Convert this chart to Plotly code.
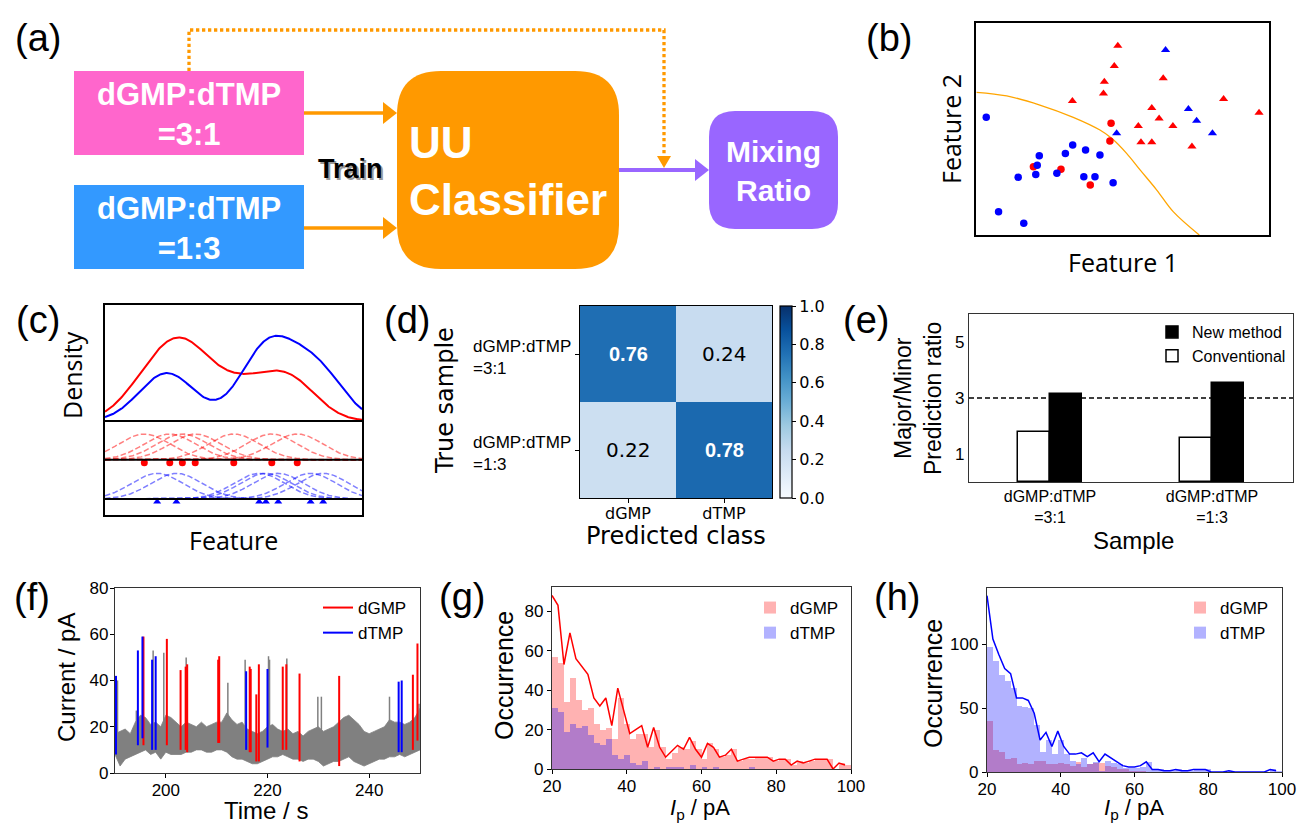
import numpy as np
import plotly.graph_objects as go

W, H = 1297, 826
ARIAL = "Liberation Sans, Arial, sans-serif"
DJV = "DejaVu Sans, sans-serif"
OPEN = "Open Sans, sans-serif"

# ---------------- data ----------------
# (b) feature scatter
b_red_tri_x = [4.84, 4.72, 4.38, 4.35, 3.29, 6.39, 8.45, 9.66, 6.00, 6.25, 5.54, 6.72, 5.63, 6.00, 7.37]
b_red_tri_y = [8.93, 7.97, 7.23, 6.68, 6.32, 7.39, 6.42, 5.77, 5.99, 5.50, 5.14, 5.14, 4.37, 4.37, 4.17]
b_blue_tri_x = [6.47, 7.25, 7.53, 8.07, 4.80]
b_blue_tri_y = [8.73, 5.94, 5.39, 4.80, 4.80]
b_red_cir_x = [4.61, 4.57, 1.96, 2.90, 3.90]
b_red_cir_y = [5.27, 4.43, 3.22, 3.10, 2.36]
b_blue_cir_x = [0.35, 2.16, 2.09, 1.44, 2.04, 2.76, 3.05, 3.30, 3.74, 4.23, 3.68, 4.06, 4.68, 0.77, 1.63]
b_blue_cir_y = [5.55, 3.74, 3.29, 2.72, 2.85, 2.91, 3.85, 4.25, 4.01, 3.77, 2.75, 2.75, 2.47, 1.10, 0.55]
b_bound_x = [0.02, 1.05, 2.18, 3.32, 4.23, 4.63, 5.14, 5.60, 6.17, 6.73, 7.62]
b_bound_y = [6.73, 6.56, 6.13, 5.55, 4.95, 4.56, 3.85, 3.07, 2.12, 1.10, 0.00]

# (c) kernel density illustration
c_red_pts = [1.53, 2.52, 3.01, 3.51, 5.01, 6.49, 7.48]
c_blue_pts = [2.03, 2.78, 6.00, 6.26, 6.74, 8.00, 8.49]

# (d) confusion matrix
d_rows = ["dGMP:dTMP<br>=3:1", "dGMP:dTMP<br>=1:3"]
d_cols = ["dGMP", "dTMP"]
d_conf = [[0.76, 0.24], [0.22, 0.78]]

# (e) prediction ratio
e_samples = ["dGMP:dTMP<br>=3:1", "dGMP:dTMP<br>=1:3"]
e_conventional = [1.77, 1.56]
e_new = [3.15, 3.52]
e_expected = 3

# (f) current trace
f_time = list(range(190, 251))
f_upper = [17, 18, 19, 17, 22, 25, 24, 21, 22, 20,
           25, 24, 22, 20, 22, 21, 20, 22, 20, 21,
           22, 22, 26, 23, 21, 22, 19, 18, 17, 18,
           20, 21, 19, 18, 19, 17, 18, 16, 18, 19,
           20, 18, 19, 20, 22, 24, 25, 23, 21, 18,
           17, 18, 19, 20, 23, 22, 22, 21, 22, 24, 28]
f_lower = [8, 3, 6, 7, 8, 9, 10, 8, 9, 6,
           9, 8, 8, 8, 9, 9, 10, 10, 9, 9,
           10, 10, 9, 7, 6, 6, 5, 4, 4, 5,
           6, 7, 7, 8, 7, 6, 6, 5, 6, 6,
           5, 3, 4, 5, 5, 6, 7, 5, 4, 3,
           4, 5, 6, 6, 7, 7, 8, 7, 8, 9, 10]
f_gray_t = [190.5, 194.2, 197.5, 199.6, 204.0, 212.2, 215.6, 220.2, 220.4, 223.8, 229.9, 230.6, 244.0, 249.8]
f_gray_lo = [10, 10, 12, 10, 10, 10, 10, 12, 12, 10, 10, 10, 10, 12]
f_gray_hi = [40, 27, 53, 52, 50, 39, 49, 50.5, 49, 49.5, 33, 33, 33, 30]
f_dtmp_t = [190.2, 194.5, 195.4, 197.3, 198.0, 215.8, 220.0, 245.8, 246.4]
f_dtmp_lo = [8, 12, 15, 10, 10, 10, 11, 9, 9]
f_dtmp_hi = [42, 53, 59, 49, 50.5, 44, 45, 39.5, 40]
f_dgmp_t = [195.6, 200.2, 202.9, 203.9, 204.2, 210.3, 210.5, 216.5, 216.7, 217.8, 218.3,
            223.0, 223.7, 226.3, 234.1, 248.6, 249.5]
f_dgmp_lo = [12, 12, 10, 10, 9, 13, 13, 9, 9, 5, 5, 10, 10, 5, 3, 10, 14]
f_dgmp_hi = [59, 58, 44.5, 46, 47, 49, 50.5, 46, 45, 34, 47, 46, 47, 43, 42, 42.5, 56]

# (g),(h) histograms, 50 bins from 20 to 100 pA
hist_edges = np.linspace(20, 100, 51)
g_dgmp = [57, 54, 34, 46, 35, 30, 31, 23, 20, 21, 15, 36, 23, 15, 18, 18, 11, 20, 11, 5,
          8, 11, 10, 14, 10, 5, 13, 10, 6, 7, 10, 4, 5, 5, 6, 6, 6, 4, 5, 5,
          2, 4, 3, 4, 5, 5, 5, 0, 3, 2]
g_dtmp = [31, 29, 19, 23, 21, 22, 17, 13, 12, 15, 7, 5, 7, 3, 2, 4, 0, 1, 0, 1,
          1, 1, 0, 2, 0, 1, 0, 1, 0, 0, 0, 0, 0, 1, 0, 0, 0, 0, 0, 0,
          0, 0, 0, 0, 0, 0, 0, 0, 0, 0]
h_dgmp = [40, 17, 16, 10, 11, 6, 7, 6, 9, 9, 6, 6, 7, 6, 5, 8, 4, 6, 7, 7,
          5, 4, 2, 2, 1, 1, 1, 0, 0, 0, 0, 0, 0, 0, 0, 0, 0, 0, 0, 0,
          0, 0, 0, 0, 0, 0, 0, 0, 0, 0]
h_dtmp = [98, 87, 76, 71, 66, 52, 51, 50, 37, 16, 25, 14, 25, 14, 9, 6, 11, 6, 8, 1,
          9, 7, 6, 3, 3, 3, 4, 8, 2, 2, 1, 1, 2, 1, 1, 2, 2, 2, 0, 0,
          0, 1, 0, 0, 0, 0, 0, 0, 2, 1]

# ---------------- helpers ----------------
def X(x):
    return x / W

def Y(y):
    return 1 - y / H

fig = go.Figure()
shapes = []
annotations = []


def ann(text, x, y, size, family=ARIAL, color="black", angle=0, **kw):
    d = dict(text=text, x=X(x), y=Y(y), xref="paper", yref="paper", showarrow=False,
             font=dict(family=family, size=size, color=color), textangle=angle,
             xanchor="center", yanchor="middle")
    d.update(kw)
    annotations.append(d)


def segs(ts, lo, hi):
    xs, ys = [], []
    for t, a, b in zip(ts, lo, hi):
        xs += [t, t, None]
        ys += [a, b, None]
    return xs, ys


def axis(**kw):
    d = dict(showgrid=False, zeroline=False, showline=True, mirror=True, linecolor="black",
             linewidth=1.3, ticks="outside", ticklen=4, tickwidth=1.2, tickcolor="black",
             automargin=False, tickfont=dict(family=ARIAL, size=17, color="black"))
    d.update(kw)
    return d

# ---------------- (a) diagram ----------------
def rrect(x0, y0, x1, y1, r):
    P = lambda x, y: f"{X(x):.5f},{Y(y):.5f}"
    return (f"M {P(x0 + r, y0)} L {P(x1 - r, y0)} Q {P(x1, y0)} {P(x1, y0 + r)} "
            f"L {P(x1, y1 - r)} Q {P(x1, y1)} {P(x1 - r, y1)} L {P(x0 + r, y1)} "
            f"Q {P(x0, y1)} {P(x0, y1 - r)} L {P(x0, y0 + r)} Q {P(x0, y0)} {P(x0 + r, y0)} Z")


def poly(pts):
    return "M " + " L ".join(f"{X(x):.5f},{Y(y):.5f}" for x, y in pts) + " Z"


def pathline(pts):
    return "M " + " L ".join(f"{X(x):.5f},{Y(y):.5f}" for x, y in pts)

PINK, BLUEBOX, ORANGE, PURPLE = "#FF66CC", "#3399FF", "#FF9900", "#9966FF"
shapes.append(dict(type="rect", xref="paper", yref="paper", x0=X(74), x1=X(304), y0=Y(155), y1=Y(71),
                   fillcolor=PINK, line=dict(width=0)))
shapes.append(dict(type="rect", xref="paper", yref="paper", x0=X(74), x1=X(304), y0=Y(269), y1=Y(185),
                   fillcolor=BLUEBOX, line=dict(width=0)))
shapes.append(dict(type="path", xref="paper", yref="paper", path=rrect(397, 71, 619, 269, 44),
                   fillcolor=ORANGE, line=dict(width=0)))
shapes.append(dict(type="path", xref="paper", yref="paper", path=rrect(709, 111, 838, 229, 26),
                   fillcolor=PURPLE, line=dict(width=0)))
# solid arrows
for yy in (113, 228):
    shapes.append(dict(type="line", xref="paper", yref="paper", x0=X(304), x1=X(386), y0=Y(yy), y1=Y(yy),
                       line=dict(color=ORANGE, width=3.5)))
    shapes.append(dict(type="path", xref="paper", yref="paper",
                       path=poly([(383, yy - 11), (397, yy), (383, yy + 11)]),
                       fillcolor=ORANGE, line=dict(width=0)))
shapes.append(dict(type="line", xref="paper", yref="paper", x0=X(619), x1=X(697), y0=Y(170), y1=Y(170),
                   line=dict(color=PURPLE, width=4)))
shapes.append(dict(type="path", xref="paper", yref="paper",
                   path=poly([(695, 159), (709, 170), (695, 181)]),
                   fillcolor=PURPLE, line=dict(width=0)))
# dotted feedback arrow
shapes.append(dict(type="path", xref="paper", yref="paper",
                   path=pathline([(189, 71), (189, 30), (664, 30), (664, 157)]),
                   line=dict(color=ORANGE, width=3.3, dash="3.3px,2.7px")))
shapes.append(dict(type="path", xref="paper", yref="paper",
                   path=poly([(657, 156), (671, 156), (664, 168)]),
                   fillcolor=ORANGE, line=dict(width=0)))

ann("<b>dGMP:dTMP<br>=3:1</b>", 189, 114, 31, color="white")
ann("<b>dGMP:dTMP<br>=1:3</b>", 189, 228, 31, color="white")
ann("<b>UU<br>Classifier</b>", 508, 171, 44, color="white", align="left")
ann("<b>Mixing<br>Ratio</b>", 773, 171, 30, color="white")
ann("<b>Train</b>", 352, 171, 27, color="#9a9a9a")
ann("<b>Train</b>", 350, 169, 27, color="black")

# panel labels
for lab, x, y in [("(a)", 38, 38), ("(b)", 889, 38), ("(c)", 38, 320), ("(d)", 407, 320),
                  ("(e)", 866, 320), ("(f)", 32, 597), ("(g)", 462, 597), ("(h)", 897, 597)]:
    ann(lab, x, y, 38)

# ---------------- (b) scatter ----------------
fig.add_trace(go.Scatter(x=b_bound_x, y=b_bound_y, mode="lines", line=dict(color="#FFA500", width=1.3, shape="spline"),
                         showlegend=False, xaxis="x", yaxis="y"))
fig.add_trace(go.Scatter(x=b_red_tri_x, y=b_red_tri_y, mode="markers",
                         marker=dict(symbol="triangle-up", size=8, color="#FF0000"), showlegend=False, xaxis="x", yaxis="y"))
fig.add_trace(go.Scatter(x=b_blue_tri_x, y=b_blue_tri_y, mode="markers",
                         marker=dict(symbol="triangle-up", size=8, color="#0000FF"), showlegend=False, xaxis="x", yaxis="y"))
fig.add_trace(go.Scatter(x=b_red_cir_x, y=b_red_cir_y, mode="markers",
                         marker=dict(symbol="circle", size=7.5, color="#FF0000"), showlegend=False, xaxis="x", yaxis="y"))
fig.add_trace(go.Scatter(x=b_blue_cir_x, y=b_blue_cir_y, mode="markers",
                         marker=dict(symbol="circle", size=7.5, color="#0000FF"), showlegend=False, xaxis="x", yaxis="y"))
ann("Feature 2", 951, 129, 25, family=OPEN, angle=-90)
ann("Feature 1", 1123, 262, 25, family=OPEN)

# ---------------- (c) KDE illustration ----------------
SIG, KH = 1.0, 0.77
DIV, RED_BASE, BLUE_BASE = 2.82, 1.66, 0.48
xs = np.linspace(0, 10, 400)


def kern(c):
    return KH * np.exp(-(xs - c) ** 2 / (2 * SIG ** 2))

for c in c_red_pts:
    fig.add_trace(go.Scatter(x=xs, y=RED_BASE + kern(c), mode="lines",
                             line=dict(color="rgba(255,0,0,0.5)", width=1.5, dash="5.5px,2.5px"),
                             showlegend=False, xaxis="x2", yaxis="y2"))
for c in c_blue_pts:
    fig.add_trace(go.Scatter(x=xs, y=BLUE_BASE + kern(c), mode="lines",
                             line=dict(color="rgba(0,0,255,0.5)", width=1.5, dash="5.5px,2.5px"),
                             showlegend=False, xaxis="x2", yaxis="y2"))
red_kde = DIV + sum(kern(c) for c in c_red_pts)
blue_kde = DIV + sum(kern(c) for c in c_blue_pts)
fig.add_trace(go.Scatter(x=xs, y=red_kde, mode="lines", line=dict(color="#FF0000", width=2),
                         showlegend=False, xaxis="x2", yaxis="y2"))
fig.add_trace(go.Scatter(x=xs, y=blue_kde, mode="lines", line=dict(color="#0000FF", width=2),
                         showlegend=False, xaxis="x2", yaxis="y2"))
for yy in (DIV, RED_BASE, BLUE_BASE):
    shapes.append(dict(type="line", xref="x2 domain", yref="y2", x0=0, x1=1, y0=yy, y1=yy,
                       line=dict(color="black", width=2)))
fig.add_trace(go.Scatter(x=c_red_pts, y=[RED_BASE - 0.09] * len(c_red_pts), mode="markers",
                         marker=dict(symbol="circle", size=7, color="#FF0000"), showlegend=False,
                         xaxis="x2", yaxis="y2", cliponaxis=False))
fig.add_trace(go.Scatter(x=c_blue_pts, y=[BLUE_BASE - 0.08] * len(c_blue_pts), mode="markers",
                         marker=dict(symbol="triangle-up", size=7, color="#0000FF"), showlegend=False,
                         xaxis="x2", yaxis="y2", cliponaxis=False))
ann("Density", 72, 375, 25, family=OPEN, angle=-90)
ann("Feature", 233, 540, 25, family=OPEN)

# ---------------- (d) confusion matrix ----------------
BLUES = [[0.0, "rgb(247,251,255)"], [0.125, "rgb(222,235,247)"], [0.25, "rgb(198,219,239)"],
         [0.375, "rgb(158,202,225)"], [0.5, "rgb(107,174,214)"], [0.625, "rgb(66,146,198)"],
         [0.75, "rgb(33,113,181)"], [0.875, "rgb(8,81,156)"], [1.0, "rgb(8,48,107)"]]
fig.add_trace(go.Heatmap(z=d_conf, x=[0, 1], y=[0, 1], zmin=0, zmax=1, colorscale=BLUES,
                         showscale=True, xaxis="x3", yaxis="y3", hoverinfo="skip",
                         colorbar=dict(x=X(780), xanchor="left", y=Y(402), yanchor="middle",
                                       len=192, lenmode="pixels", thickness=12, thicknessmode="pixels",
                                       outlinewidth=1.2, outlinecolor="black",
                                       tickvals=[0, 0.2, 0.4, 0.6, 0.8, 1.0],
                                       ticktext=["0.0", "0.2", "0.4", "0.6", "0.8", "1.0"],
                                       ticks="outside", ticklen=4, tickcolor="black",
                                       tickfont=dict(family=DJV, size=16, color="black"),
                                       xpad=0, ypad=0)))
for i in range(2):
    for j in range(2):
        v = d_conf[i][j]
        annotations.append(dict(text=(f"<b>{v:.2f}</b>" if v > 0.5 else f"{v:.2f}"), x=j, y=i,
                                xref="x3", yref="y3", showarrow=False,
                                font=dict(family=ARIAL if v > 0.5 else DJV, size=20,
                                          color="white" if v > 0.5 else "black")))
    annotations.append(dict(text=d_rows[i], x=X(573), y=i, xref="paper", yref="y3", showarrow=False,
                            xanchor="right", yanchor="middle", align="left", yshift=-3,
                            font=dict(family=ARIAL, size=17, color="black")))
ann("True sample", 445, 401, 24, family=DJV, angle=-90)
ann("Predicted class", 676, 536, 24, family=DJV)

# ---------------- (e) bar chart ----------------
fig.add_trace(go.Bar(x=e_samples, y=e_conventional, name="Conventional", width=0.2, offset=-0.2,
                     marker=dict(color="white", line=dict(color="black", width=1.5)),
                     xaxis="x4", yaxis="y4", legend="legend"))
fig.add_trace(go.Bar(x=e_samples, y=e_new, name="New method", width=0.2, offset=0,
                     marker=dict(color="black", line=dict(color="black", width=1.5)),
                     xaxis="x4", yaxis="y4", legend="legend"))
shapes.append(dict(type="line", xref="x4 domain", yref="y4", x0=0, x1=1, y0=e_expected, y1=e_expected,
                   line=dict(color="black", width=1.3, dash="5px,3px")))
ann("Major/Minor<br>Prediction ratio", 918, 399, 23, angle=-90)
ann("Sample", 1133, 540, 24)

# ---------------- (f) current trace ----------------
fig.add_trace(go.Scatter(x=f_time + f_time[::-1], y=f_upper + f_lower[::-1], fill="toself",
                         fillcolor="#808080", mode="lines", line=dict(color="#808080", width=0.8),
                         showlegend=False, xaxis="x5", yaxis="y5"))
gx, gy = segs(f_gray_t, f_gray_lo, f_gray_hi)
fig.add_trace(go.Scatter(x=gx, y=gy, mode="lines", line=dict(color="#808080", width=1.5),
                         showlegend=False, xaxis="x5", yaxis="y5"))
rx, ry = segs(f_dgmp_t, f_dgmp_lo, f_dgmp_hi)
fig.add_trace(go.Scatter(x=rx, y=ry, mode="lines", line=dict(color="#FF0000", width=2),
                         name="dGMP", xaxis="x5", yaxis="y5", legend="legend2"))
bx, by = segs(f_dtmp_t, f_dtmp_lo, f_dtmp_hi)
fig.add_trace(go.Scatter(x=bx, y=by, mode="lines", line=dict(color="#0000FF", width=2),
                         name="dTMP", xaxis="x5", yaxis="y5", legend="legend2"))
ann("Current / pA", 66, 678, 24, angle=-90)
ann("Time / s", 266, 810, 24)

# ---------------- (g),(h) histograms ----------------
centers = (hist_edges[:-1] + hist_edges[1:]) / 2
bw = hist_edges[1] - hist_edges[0]
for dg, dt, lc, xa, ya, lg in [(g_dgmp, g_dtmp, "#FF0000", "x6", "y6", "legend3"),
                               (h_dgmp, h_dtmp, "#0000FF", "x7", "y7", "legend4")]:
    fig.add_trace(go.Bar(x=centers, y=dg, width=bw, name="dGMP",
                         marker=dict(color="rgba(255,0,0,0.3)", line=dict(width=0)),
                         xaxis=xa, yaxis=ya, legend=lg))
    fig.add_trace(go.Bar(x=centers, y=dt, width=bw, name="dTMP",
                         marker=dict(color="rgba(0,0,255,0.3)", line=dict(width=0)),
                         xaxis=xa, yaxis=ya, legend=lg))
    fig.add_trace(go.Scatter(x=hist_edges[:-1], y=np.array(dg) + np.array(dt), mode="lines",
                             line=dict(color=lc, width=1.5), showlegend=False, xaxis=xa, yaxis=ya))
ann("Occurrence", 504, 676, 25, angle=-90)
ann("<i>I</i><sub>p</sub> / pA", 700, 809, 22)
ann("Occurrence", 933, 684, 25, angle=-90)
ann("<i>I</i><sub>p</sub> / pA", 1134, 809, 22)

# ---------------- layout ----------------
leg_common = dict(bgcolor="rgba(0,0,0,0)", borderwidth=0, tracegroupgap=0, itemwidth=30)
fig.update_layout(
    template="none",
    width=W, height=H, margin=dict(l=0, r=0, t=0, b=0, pad=0, autoexpand=False),
    paper_bgcolor="white", plot_bgcolor="rgba(0,0,0,0)", barmode="overlay", bargap=0,
    font=dict(family=ARIAL, color="black"),
    xaxis=axis(domain=[X(976), X(1269)], range=[0, 10], showticklabels=False, ticks="", linewidth=2, anchor="y"),
    yaxis=axis(domain=[Y(235), Y(23)], range=[0, 10], showticklabels=False, ticks="", linewidth=2, anchor="x"),
    xaxis2=axis(domain=[X(105), X(362)], range=[0, 10], showticklabels=False, ticks="", linewidth=2, anchor="y2"),
    yaxis2=axis(domain=[Y(515), Y(305)], range=[0, 6.3], showticklabels=False, ticks="", linewidth=2, anchor="x2"),
    xaxis3=axis(domain=[X(580), X(772)], range=[-0.5, 1.5], tickvals=[0, 1], ticktext=d_cols,
                tickfont=dict(family=DJV, size=16, color="black"), ticklabelstandoff=-3, anchor="y3"),
    yaxis3=axis(domain=[Y(498), Y(306)], range=[1.5, -0.5], tickvals=[0, 1], showticklabels=False, anchor="x3"),
    xaxis4=axis(domain=[X(969), X(1293)], type="category", range=[-0.5, 1.5], ticks="",
                tickfont=dict(family=ARIAL, size=16, color="black"), linecolor="#333", anchor="y4"),
    yaxis4=axis(domain=[Y(482), Y(314)], range=[0, 6], tickvals=[1, 3, 5], ticks="", linecolor="#333", anchor="x4"),
    xaxis5=axis(domain=[X(115), X(420)], range=[190, 250], tickvals=[200, 220, 240], linecolor="#333",
                ticklabelstandoff=-3, anchor="y5"),
    yaxis5=axis(domain=[Y(773), Y(588)], range=[0, 80], tickvals=[0, 20, 40, 60, 80], linecolor="#333",
                ticklabelstandoff=-2, anchor="x5"),
    xaxis6=axis(domain=[X(552), X(851)], range=[20, 100], tickvals=[20, 40, 60, 80, 100], linecolor="#333",
                ticklabelstandoff=-3, anchor="y6"),
    yaxis6=axis(domain=[Y(769), Y(587)], range=[0, 92.3], tickvals=[0, 20, 40, 60, 80], linecolor="#333", anchor="x6"),
    xaxis7=axis(domain=[X(987), X(1282)], range=[20, 100], tickvals=[20, 40, 60, 80, 100], linecolor="#333",
                ticklabelstandoff=-3, anchor="y7"),
    yaxis7=axis(domain=[Y(772), Y(588)], range=[0, 144], tickvals=[0, 50, 100], linecolor="#333", anchor="x7"),
    legend=dict(x=X(1291), xanchor="right", y=Y(315), yanchor="top", traceorder="reversed",
                font=dict(family=ARIAL, size=16, color="black"), **leg_common),
    legend2=dict(x=X(318), xanchor="left", y=Y(590), yanchor="top",
                 font=dict(family=ARIAL, size=17, color="black"), **leg_common),
    legend3=dict(x=X(750), xanchor="left", y=Y(590), yanchor="top",
                 font=dict(family=ARIAL, size=17, color="black"), **leg_common),
    legend4=dict(x=X(1180), xanchor="left", y=Y(590), yanchor="top",
                 font=dict(family=ARIAL, size=17, color="black"), **leg_common),
    shapes=shapes, annotations=annotations,
)

fig.write_html("out.html", config={"displayModeBar": False},
               post_script="document.body.style.margin='0px';document.body.style.padding='0px';"
                           "document.body.style.overflow='hidden';")
